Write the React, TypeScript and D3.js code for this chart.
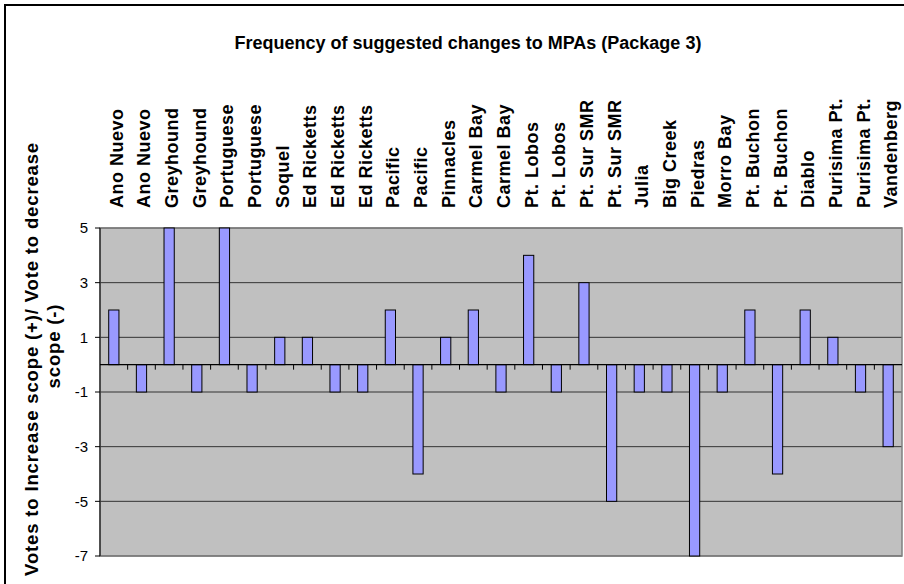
import React from "react";
import * as d3 from "d3";

const categories = [
  "Ano Nuevo", "Ano Nuevo", "Greyhound", "Greyhound", "Portuguese", "Portuguese",
  "Soquel", "Ed Ricketts", "Ed Ricketts", "Ed Ricketts", "Pacific", "Pacific",
  "Pinnacles", "Carmel Bay", "Carmel Bay", "Pt. Lobos", "Pt. Lobos", "Pt. Sur SMR",
  "Pt. Sur SMR", "Julia", "Big Creek", "Piedras", "Morro Bay", "Pt. Buchon",
  "Pt. Buchon", "Diablo", "Purisima Pt.", "Purisima Pt.", "Vandenberg",
];
const values = [
  2, -1, 5, -1, 5, -1,
  1, 1, -1, -1, 2, -4,
  1, 2, -1, 4, -1, 3,
  -5, -1, -1, -7, -1, 2,
  -4, 2, 1, -1, -3,
];
const yTicks = [5, 3, 1, -1, -3, -5, -7];
const title = "Frequency of suggested changes to MPAs (Package 3)";
const yTitle1 = "Votes to Increase scope (+)/ Vote to decrease";
const yTitle2 = "scope (-)";

const W = 904;
const H = 584;
const plot = { left: 100, right: 902, top: 228, bottom: 556 };
const FONT = "'Liberation Sans', Arial, Helvetica, sans-serif";

export default function App() {
  const idx = categories.map((_, i) => i);
  const x = d3.scaleBand<number>().domain(idx).range([plot.left, plot.right]).padding(0);
  const y = d3.scaleLinear().domain([-7, 5]).range([plot.bottom, plot.top]);
  const step = x.step();
  const barW = step * 0.37;
  const y0 = y(0);

  return (
    <svg
      width={W}
      height={H}
      style={{ position: "absolute", left: 0, top: 0, background: "#fff" }}
      fontFamily={FONT}
    >
      <rect x={5} y={5} width={W + 20} height={H + 20} fill="#fff" stroke="#000" strokeWidth={2} />
      <text x={468} y={49} textAnchor="middle" fontSize={18} fontWeight="bold" fill="#000">
        {title}
      </text>

      {/* plot area */}
      <rect
        x={plot.left}
        y={plot.top}
        width={plot.right - plot.left}
        height={plot.bottom - plot.top}
        fill="#C0C0C0"
      />
      {yTicks.map((t) => (
        <line
          key={"g" + t}
          x1={plot.left}
          x2={plot.right}
          y1={y(t)}
          y2={y(t)}
          stroke="#333"
          strokeWidth={1}
        />
      ))}
      <rect
        x={plot.left}
        y={plot.top}
        width={plot.right - plot.left}
        height={plot.bottom - plot.top}
        fill="none"
        stroke="#808080"
        strokeWidth={1.5}
      />

      {/* y axis */}
      <line x1={plot.left} x2={plot.left} y1={plot.top} y2={plot.bottom} stroke="#000" strokeWidth={1} />
      {yTicks.map((t) => (
        <g key={"yt" + t}>
          <line x1={plot.left - 5} x2={plot.left} y1={y(t)} y2={y(t)} stroke="#000" />
          <text x={88} y={y(t)} dy="0.35em" textAnchor="end" fontSize={15} fill="#000">
            {t}
          </text>
        </g>
      ))}

      {/* x axis at zero */}
      {idx.slice(1).map((i) => (
        <line
          key={"xt" + i}
          x1={x(i)!}
          x2={x(i)!}
          y1={y0}
          y2={y0 + 5}
          stroke="#000"
        />
      ))}

      {/* bars */}
      {values.map((v, i) => {
        const cx = x(i)! + step / 2;
        const top = Math.min(y(v), y0);
        const h = Math.abs(y(v) - y0);
        return (
          <rect
            key={"b" + i}
            x={cx - barW / 2}
            y={top}
            width={barW}
            height={h}
            fill="#9999FF"
            stroke="#000"
            strokeWidth={1}
          />
        );
      })}
      <line x1={plot.left} x2={plot.right} y1={y0} y2={y0} stroke="#000" strokeWidth={1.2} />

      {/* category labels */}
      {categories.map((c, i) => {
        const cx = x(i)! + step / 2 + 9;
        return (
          <text
            key={"c" + i}
            transform={`translate(${cx},208) rotate(-90)`}
            fontSize={18}
            fontWeight="bold"
            letterSpacing={0.5}
            fill="#000"
          >
            {c}
          </text>
        );
      })}

      {/* y axis title */}
      <text
        transform={`translate(38,142) rotate(-90)`}
        textAnchor="end"
        fontSize={18.5}
        fontWeight="bold"
        letterSpacing={0.85}
        fill="#000"
      >
        {yTitle1}
      </text>
      <text
        transform={`translate(60,346) rotate(-90)`}
        textAnchor="middle"
        fontSize={18.5}
        fontWeight="bold"
        letterSpacing={0.85}
        fill="#000"
      >
        {yTitle2}
      </text>
    </svg>
  );
}
